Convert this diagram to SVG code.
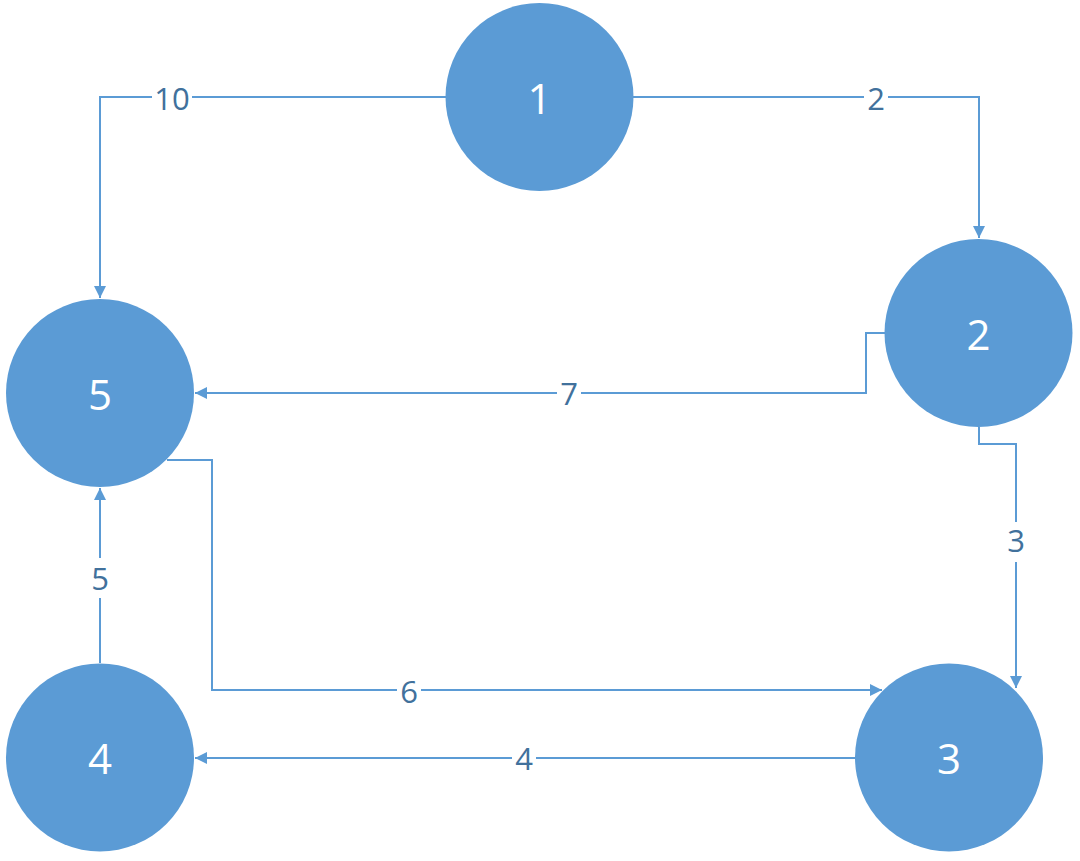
<svg xmlns="http://www.w3.org/2000/svg" width="1080" height="861" viewBox="0 0 1080 861">
<style>
.node{fill:#5B9BD5;}
.nt{fill:#ffffff;font-family:"Open Sans","Liberation Sans",sans-serif;font-size:42px;text-anchor:middle;dominant-baseline:central;}
.edge{fill:none;stroke:#5B9BD5;stroke-width:2;marker-end:url(#arr);}
.lbl{fill:#41719C;font-family:"Open Sans","Liberation Sans",sans-serif;font-size:31px;text-anchor:middle;dominant-baseline:central;}
.bg{fill:#ffffff;}
</style>
<defs>
<marker id="arr" viewBox="0 0 10 10" refX="10" refY="5" markerWidth="6" markerHeight="6" orient="auto" markerUnits="strokeWidth">
<path d="M0,0 L10,5 L0,10 z" fill="#5B9BD5"/>
</marker>
</defs>
<rect width="1080" height="861" fill="#ffffff"/>
<g id="connectors">
<path class="edge" d="M446,97 H100 V298"/>
<path class="edge" d="M633,97 H979 V238"/>
<path class="edge" d="M885,333 H866 V393 H195"/>
<path class="edge" d="M979,427 V444 H1016 V688"/>
<path class="edge" d="M167,460 H212 V690 H882"/>
<path class="edge" d="M856,758 H195"/>
<path class="edge" d="M100,663 V488"/>
<rect class="bg" x="152" y="80" width="40" height="36"/>
<text class="lbl" x="172" y="98">10</text>
<rect class="bg" x="864" y="80" width="24" height="36"/>
<text class="lbl" x="876" y="98">2</text>
<rect class="bg" x="557" y="375" width="24" height="36"/>
<text class="lbl" x="569" y="393">7</text>
<rect class="bg" x="1004" y="522" width="24" height="40"/>
<text class="lbl" x="1016" y="540">3</text>
<rect class="bg" x="397" y="672" width="24" height="36"/>
<text class="lbl" x="409" y="691">6</text>
<rect class="bg" x="512" y="740" width="24" height="36"/>
<text class="lbl" x="524" y="758">4</text>
<rect class="bg" x="88" y="558" width="24" height="40"/>
<text class="lbl" x="100" y="578">5</text>
</g>
<g id="node1"><circle class="node" cx="539.5" cy="97" r="94"/><text class="nt" x="539.5" y="97">1</text></g>
<g id="node2"><circle class="node" cx="978.5" cy="333" r="94"/><text class="nt" x="978.5" y="333">2</text></g>
<g id="node3"><circle class="node" cx="949" cy="757.5" r="94"/><text class="nt" x="949" y="757.5">3</text></g>
<g id="node4"><circle class="node" cx="100" cy="757.5" r="94"/><text class="nt" x="100" y="757.5">4</text></g>
<g id="node5"><circle class="node" cx="100" cy="393" r="94"/><text class="nt" x="100" y="393">5</text></g>
</svg>
